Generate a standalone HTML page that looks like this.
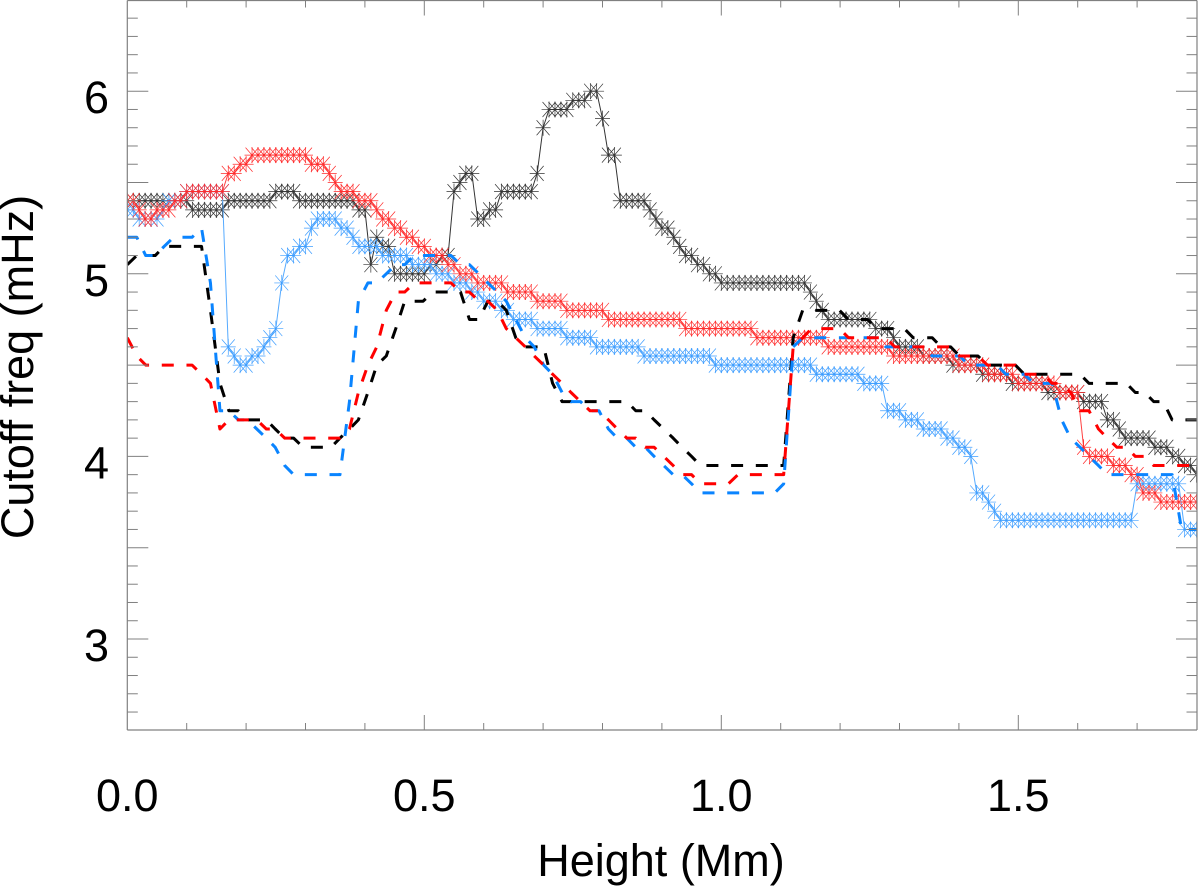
<!DOCTYPE html>
<html lang="en">
<head>
<meta charset="utf-8">
<title>Cutoff frequency vs height</title>
<style>
html,body{margin:0;padding:0;background:#fff;width:1200px;height:892px;overflow:hidden}
svg{display:block}
text{font-family:"Liberation Sans",sans-serif;font-size:45px;fill:#000}
</style>
</head>
<body>
<svg id="chart" xmlns="http://www.w3.org/2000/svg" width="1200" height="892" viewBox="0 0 1200 892">
<defs><clipPath id="plot-clip"><rect x="127.3" y="0" width="1070" height="730"/></clipPath></defs>
<rect x="0" y="0" width="1200" height="892" fill="#fff"/>
<g id="series" clip-path="url(#plot-clip)"></g>
<g id="axes"></g>
</svg>
<script>
const solidHeights = [
0.00,0.01,0.02,0.03,0.04,0.05,0.06,0.07,0.08,0.09,
0.10,0.11,0.12,0.13,0.14,0.15,0.16,0.17,0.18,0.19,
0.20,0.21,0.22,0.23,0.24,0.25,0.26,0.27,0.28,0.29,
0.30,0.31,0.32,0.33,0.34,0.35,0.36,0.37,0.38,0.39,
0.40,0.41,0.42,0.43,0.44,0.45,0.46,0.47,0.48,0.49,
0.50,0.51,0.52,0.53,0.54,0.55,0.56,0.57,0.58,0.59,
0.60,0.61,0.62,0.63,0.64,0.65,0.66,0.67,0.68,0.69,
0.70,0.71,0.72,0.73,0.74,0.75,0.76,0.77,0.78,0.79,
0.80,0.81,0.82,0.83,0.84,0.85,0.86,0.87,0.88,0.89,
0.90,0.91,0.92,0.93,0.94,0.95,0.96,0.97,0.98,0.99,
1.00,1.01,1.02,1.03,1.04,1.05,1.06,1.07,1.08,1.09,
1.10,1.11,1.12,1.13,1.14,1.15,1.16,1.17,1.18,1.19,
1.20,1.21,1.22,1.23,1.24,1.25,1.26,1.27,1.28,1.29,
1.30,1.31,1.32,1.33,1.34,1.35,1.36,1.37,1.38,1.39,
1.40,1.41,1.42,1.43,1.44,1.45,1.46,1.47,1.48,1.49,
1.50,1.51,1.52,1.53,1.54,1.55,1.56,1.57,1.58,1.59,
1.60,1.61,1.62,1.63,1.64,1.65,1.66,1.67,1.68,1.69,
1.70,1.71,1.72,1.73,1.74,1.75,1.76,1.77,1.78,1.79,1.80];

const blackSolid = [
5.4,5.4,5.4,5.4,5.4,5.4,5.4,5.4,5.4,5.4,
5.4,5.35,5.35,5.35,5.35,5.35,5.35,5.4,5.4,5.4,
5.4,5.4,5.4,5.4,5.4,5.45,5.45,5.45,5.45,5.4,
5.4,5.4,5.4,5.4,5.4,5.4,5.4,5.4,5.4,5.35,
5.35,5.05,5.2,5.15,5.15,5.0,5.0,5.0,5.0,5.0,
5.0,5.05,5.05,5.1,5.1,5.45,5.5,5.55,5.55,5.3,
5.3,5.35,5.35,5.45,5.45,5.45,5.45,5.45,5.45,5.55,
5.8,5.9,5.9,5.9,5.9,5.95,5.95,5.95,6.0,6.0,
5.85,5.65,5.65,5.4,5.4,5.4,5.4,5.4,5.35,5.3,
5.25,5.25,5.2,5.15,5.1,5.1,5.05,5.05,5.0,5.0,
4.95,4.95,4.95,4.95,4.95,4.95,4.95,4.95,4.95,4.95,
4.95,4.95,4.95,4.95,4.95,4.9,4.85,4.8,4.75,4.75,
4.75,4.75,4.75,4.75,4.75,4.75,4.7,4.7,4.7,4.65,
4.6,4.6,4.6,4.6,4.55,4.55,4.55,4.55,4.55,4.5,
4.5,4.5,4.5,4.5,4.45,4.45,4.45,4.45,4.45,4.4,
4.4,4.4,4.4,4.4,4.4,4.35,4.35,4.35,4.35,4.35,
4.35,4.3,4.3,4.3,4.3,4.2,4.2,4.15,4.1,4.1,
4.1,4.1,4.1,4.05,4.05,4.05,4.0,4.0,3.95,3.95,3.9];

const redSolid = [
5.4,5.4,5.35,5.3,5.3,5.35,5.35,5.35,5.4,5.4,
5.45,5.45,5.45,5.45,5.45,5.45,5.45,5.55,5.55,5.6,
5.6,5.65,5.65,5.65,5.65,5.65,5.65,5.65,5.65,5.65,
5.65,5.6,5.6,5.6,5.55,5.5,5.45,5.45,5.45,5.4,
5.4,5.4,5.35,5.3,5.3,5.25,5.25,5.2,5.2,5.15,
5.15,5.1,5.1,5.1,5.05,5.05,5.0,5.0,5.0,4.95,
4.95,4.95,4.95,4.95,4.9,4.9,4.9,4.9,4.9,4.85,
4.85,4.85,4.85,4.85,4.8,4.8,4.8,4.8,4.8,4.8,
4.8,4.75,4.75,4.75,4.75,4.75,4.75,4.75,4.75,4.75,
4.75,4.75,4.75,4.75,4.7,4.7,4.7,4.7,4.7,4.7,
4.7,4.7,4.7,4.7,4.7,4.7,4.65,4.65,4.65,4.65,
4.65,4.65,4.65,4.65,4.65,4.65,4.65,4.65,4.6,4.6,
4.6,4.6,4.6,4.6,4.6,4.6,4.6,4.6,4.6,4.55,
4.55,4.55,4.55,4.55,4.55,4.55,4.55,4.55,4.55,4.55,
4.5,4.5,4.5,4.5,4.5,4.45,4.45,4.45,4.45,4.45,
4.4,4.4,4.4,4.4,4.4,4.4,4.4,4.35,4.35,4.35,
4.35,4.05,4.0,4.0,4.0,4.0,3.95,3.95,3.95,3.9,
3.9,3.8,3.8,3.8,3.75,3.75,3.75,3.75,3.75,3.75,3.75];

const blueSolid = [
5.35,5.35,5.3,5.3,5.3,5.3,5.35,5.4,5.4,5.4,
5.45,5.45,5.45,5.45,5.45,5.45,5.45,4.6,4.55,4.5,
4.5,4.55,4.55,4.6,4.65,4.7,4.95,5.1,5.1,5.15,
5.15,5.25,5.3,5.3,5.3,5.3,5.25,5.25,5.2,5.15,
5.15,5.15,5.15,5.1,5.1,5.1,5.1,5.1,5.05,5.05,
5.05,5.05,5.0,5.0,5.0,4.95,4.95,4.95,4.9,4.9,
4.85,4.85,4.85,4.8,4.8,4.75,4.75,4.75,4.75,4.7,
4.7,4.7,4.7,4.7,4.65,4.65,4.65,4.65,4.65,4.6,
4.6,4.6,4.6,4.6,4.6,4.6,4.6,4.55,4.55,4.55,
4.55,4.55,4.55,4.55,4.55,4.55,4.55,4.55,4.55,4.5,
4.5,4.5,4.5,4.5,4.5,4.5,4.5,4.5,4.5,4.5,
4.5,4.5,4.5,4.5,4.5,4.5,4.45,4.45,4.45,4.45,
4.45,4.45,4.45,4.45,4.4,4.4,4.4,4.4,4.25,4.25,
4.25,4.2,4.2,4.2,4.15,4.15,4.15,4.15,4.1,4.1,
4.05,4.05,4.0,3.8,3.8,3.75,3.7,3.65,3.65,3.65,
3.65,3.65,3.65,3.65,3.65,3.65,3.65,3.65,3.65,3.65,
3.65,3.65,3.65,3.65,3.65,3.65,3.65,3.65,3.65,3.65,
3.85,3.85,3.85,3.85,3.85,3.85,3.85,3.85,3.6,3.6,3.6];

const dashedHeights = [
0.000,0.016,0.031,0.047,0.062,0.078,0.093,0.109,0.125,0.140,
0.156,0.171,0.187,0.202,0.218,0.234,0.249,0.265,0.280,0.296,
0.311,0.327,0.343,0.358,0.374,0.389,0.405,0.420,0.436,0.452,
0.467,0.483,0.498,0.514,0.529,0.545,0.561,0.576,0.592,0.607,
0.623,0.638,0.654,0.670,0.685,0.701,0.716,0.732,0.747,0.763,
0.779,0.794,0.810,0.825,0.841,0.856,0.872,0.887,0.903,0.919,
0.934,0.950,0.965,0.981,0.996,1.012,1.028,1.043,1.059,1.074,
1.090,1.105,1.121,1.137,1.152,1.168,1.183,1.199,1.214,1.230,
1.246,1.261,1.277,1.292,1.308,1.323,1.339,1.355,1.370,1.386,
1.401,1.417,1.432,1.448,1.464,1.479,1.495,1.510,1.526,1.541,
1.557,1.573,1.588,1.604,1.619,1.635,1.650,1.666,1.682,1.697,
1.713,1.728,1.744,1.759,1.775,1.791,1.806];

const blackDashed = [
5.05,5.1,5.1,5.1,5.15,5.15,5.15,5.15,5.15,4.8,
4.4,4.25,4.25,4.2,4.2,4.2,4.15,4.1,4.1,4.05,
4.05,4.05,4.05,4.1,4.15,4.2,4.35,4.5,4.55,4.7,
4.85,4.85,4.85,4.9,4.9,4.9,4.9,4.75,4.75,4.85,
4.85,4.8,4.65,4.6,4.6,4.6,4.4,4.3,4.3,4.3,
4.3,4.3,4.3,4.3,4.3,4.25,4.25,4.2,4.15,4.1,
4.05,4.0,3.95,3.95,3.95,3.95,3.95,3.95,3.95,3.95,
3.95,3.95,4.65,4.8,4.8,4.8,4.8,4.8,4.75,4.75,
4.75,4.7,4.7,4.7,4.7,4.65,4.65,4.65,4.6,4.6,
4.55,4.55,4.55,4.5,4.5,4.5,4.5,4.45,4.45,4.45,
4.45,4.45,4.45,4.45,4.4,4.4,4.4,4.4,4.4,4.35,
4.35,4.3,4.3,4.2,4.2,4.2,4.2];

const blueDashed = [
5.2,5.2,5.1,5.1,5.15,5.2,5.2,5.2,5.25,4.95,
4.25,4.25,4.2,4.2,4.15,4.1,4.05,3.95,3.9,3.9,
3.9,3.9,3.9,3.9,4.3,4.85,4.95,4.95,5.0,5.05,
5.05,5.1,5.1,5.1,5.1,5.1,5.05,5.05,5.0,4.95,
4.9,4.85,4.75,4.65,4.6,4.5,4.45,4.35,4.3,4.3,
4.25,4.25,4.15,4.1,4.1,4.05,4.05,4.0,3.95,3.9,
3.9,3.85,3.8,3.8,3.8,3.8,3.8,3.8,3.8,3.8,
3.8,3.85,4.6,4.65,4.65,4.65,4.65,4.65,4.65,4.65,
4.65,4.65,4.6,4.6,4.6,4.6,4.6,4.55,4.55,4.55,
4.55,4.5,4.5,4.5,4.5,4.45,4.45,4.45,4.4,4.4,
4.4,4.2,4.1,4.05,4.0,3.95,3.9,3.9,3.9,3.9,
3.9,3.9,3.9,3.9,3.6,3.6,3.6];

const redDashed = [
4.65,4.55,4.5,4.5,4.5,4.5,4.5,4.5,4.45,4.4,
4.15,4.2,4.2,4.2,4.2,4.15,4.15,4.1,4.1,4.1,
4.1,4.1,4.1,4.1,4.15,4.35,4.5,4.6,4.8,4.9,
4.9,4.95,4.95,4.95,4.95,4.95,4.9,4.9,4.85,4.85,
4.8,4.7,4.65,4.6,4.55,4.5,4.45,4.4,4.35,4.3,
4.25,4.25,4.2,4.15,4.1,4.1,4.05,4.05,4.0,3.95,
3.9,3.9,3.85,3.85,3.85,3.85,3.9,3.9,3.9,3.9,
3.9,3.9,4.6,4.65,4.7,4.7,4.7,4.7,4.65,4.65,
4.65,4.65,4.65,4.6,4.6,4.6,4.6,4.6,4.6,4.6,
4.55,4.55,4.55,4.5,4.5,4.5,4.5,4.45,4.45,4.45,
4.4,4.4,4.35,4.25,4.25,4.15,4.1,4.05,4.05,4.0,
4.0,3.95,3.95,3.95,3.95,3.95,3.95];

const xTickLabels = ["0.0","0.5","1.0","1.5"];
const xTickValues = [0,0.5,1.0,1.5];
const yTickLabels = ["3","4","5","6"];
const yTickValues = [3,4,5,6];

const NS = "http://www.w3.org/2000/svg";
const X_LEFT = 127.3, X_PER_UNIT = 594, X_RIGHT = 1197;
const Y_BASE = 639, Y_PER_UNIT = 182.6, Y_BOTTOM = 730, Y_TOP = 0.5;
const xScale = h => X_LEFT + h * X_PER_UNIT;
const yScale = v => Y_BASE - (v - 3) * Y_PER_UNIT;

const seriesLayer = document.getElementById("series");
const axesLayer = document.getElementById("axes");

function make(tag, attrs, parent) {
  const el = document.createElementNS(NS, tag);
  for (const k in attrs) el.setAttribute(k, attrs[k]);
  parent.appendChild(el);
  return el;
}

function asterisk(cx, cy) {
  const rh = 7.5, rv = 8, dx = 6.5, dy = 7.5;
  let d = "";
  d += "M" + (cx - rh) + " " + cy + "L" + (cx + rh) + " " + cy;
  d += "M" + cx + " " + (cy - rv) + "L" + cx + " " + (cy + rv);
  d += "M" + (cx - dx) + " " + (cy - dy) + "L" + (cx + dx) + " " + (cy + dy);
  d += "M" + (cx - dx) + " " + (cy + dy) + "L" + (cx + dx) + " " + (cy - dy);
  return d;
}

function linePoints(values, hs) {
  return values.map((v, i) => xScale(hs[i]).toFixed(2) + "," + yScale(v).toFixed(2)).join(" ");
}

function drawSolid(values, color, markerColor, label) {
  const g = make("g", {}, seriesLayer);
  
  
  const line = make("polyline", {points: linePoints(values, solidHeights), fill: "none", stroke: color, "stroke-width": 1}, g);
  
  
  values.forEach((v, i) => {
    const m = make("path", {d: asterisk(xScale(solidHeights[i]), yScale(v)), fill: "none", stroke: markerColor, "stroke-width": 0.7}, g);
    
    
  });
}

function drawDashed(values, color, label) {
  const line = make("polyline", {points: linePoints(values, dashedHeights), fill: "none", stroke: color, "stroke-width": 3, "stroke-dasharray": "12 12.7", "stroke-linejoin": "round"}, seriesLayer);
  
  
}

drawSolid(blackSolid, "#333333", "#333333", "black");
drawSolid(blueSolid, "#55aaff", "#3d9dff", "blue");
drawSolid(redSolid, "#ff4040", "#ff2a2a", "red");
drawDashed(blackDashed, "#000000", "black");
drawDashed(blueDashed, "#0a84ff", "blue");
drawDashed(redDashed, "#ff0000", "red");

const AXIS_COLOR = "#808080";
function axisLine(x1, y1, x2, y2, name, w) {
  const l = make("line", {x1: x1, y1: y1, x2: x2, y2: y2, stroke: AXIS_COLOR, "stroke-width": w}, axesLayer);
  
  
}
axisLine(X_LEFT, Y_TOP, X_LEFT, Y_BOTTOM, "y-axis-left", 1.2);
axisLine(X_RIGHT, Y_TOP, X_RIGHT, Y_BOTTOM, "y-axis-right", 1.2);
axisLine(X_LEFT, Y_BOTTOM, X_RIGHT, Y_BOTTOM, "x-axis-bottom", 1.2);
axisLine(X_LEFT, Y_TOP, X_RIGHT, Y_TOP, "x-axis-top", 1.2);

for (let n = 1; n < 18; n++) {
  const x = xScale(n / 10);
  const len = n % 5 === 0 ? 15 : 7;
  axisLine(x, Y_BOTTOM, x, Y_BOTTOM - len, "x-tick-bottom", 1);
  axisLine(x, Y_TOP, x, Y_TOP + len, "x-tick-top", 1);
}
for (let n = 26; n < 65; n++) {
  const y = yScale(n / 10);
  const len = n % 5 === 0 ? 21 : 10.5;
  axisLine(X_LEFT, y, X_LEFT + len, y, "y-tick-left", 1);
  axisLine(X_RIGHT, y, X_RIGHT - len, y, "y-tick-right", 1);
}

xTickValues.forEach((v, i) => {
  const t = make("text", {x: xScale(v), y: 811, "text-anchor": "middle"}, axesLayer);
  
  
  t.textContent = xTickLabels[i];
});
yTickValues.forEach((v, i) => {
  const t = make("text", {x: 109, y: yScale(v) + 22, "text-anchor": "end"}, axesLayer);
  
  
  t.textContent = yTickLabels[i];
});

const xTitle = make("text", {x: 661, y: 876, "text-anchor": "middle"}, axesLayer);


xTitle.textContent = "Height (Mm)";

const yTitle = make("text", {x: 0, y: 0, "text-anchor": "middle", transform: "translate(33 367) rotate(-90)"}, axesLayer);


yTitle.textContent = "Cutoff freq (mHz)";
</script>
</body>
</html>
